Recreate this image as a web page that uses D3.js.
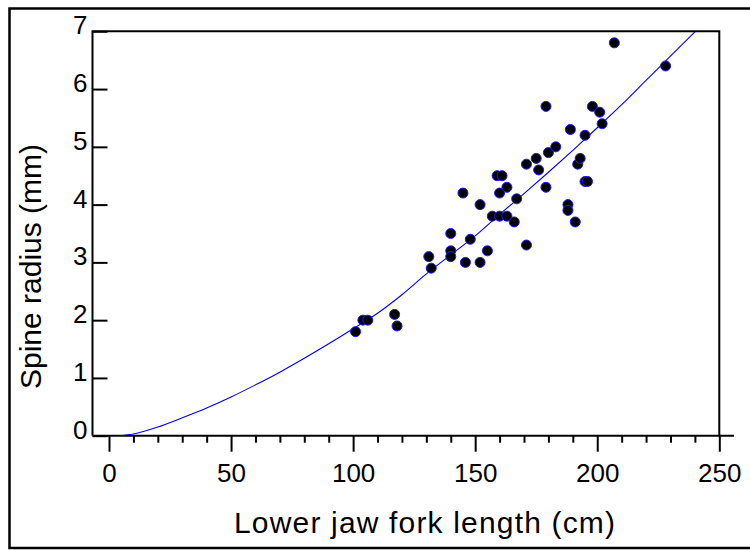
<!DOCTYPE html>
<html>
<head>
<meta charset="utf-8">
<script src="https://cdn.jsdelivr.net/npm/d3@7"></script>
<style>
  html, body { margin: 0; padding: 0; background: #fff; }
  svg { display: block; }
  text { font-family: "Liberation Sans", Arial, sans-serif; fill: #000; }
</style>
</head>
<body>
<svg id="chart" width="750" height="550"></svg>
<script>
// ---- data ----
const forkLength = [101,104,106,117,118,131,132,140,140,140,145,146,148,152,152,155,157,160,160,159,161,163,163,166,167,171,171,175,176,179,179,180,183,188,188,189,191,192,193,195,195,196,198,201,202,207,228];
const spineRadius = [1.8,2.0,2.0,2.1,1.9,3.1,2.9,3.5,3.2,3.1,4.2,3.0,3.4,4.0,3.0,3.2,3.8,3.8,4.2,4.5,4.5,4.3,3.8,3.7,4.1,4.7,3.3,4.8,4.6,5.7,4.3,4.9,5.0,4.0,3.9,5.3,3.7,4.7,4.8,5.2,4.4,4.4,5.7,5.6,5.4,6.8,6.4];
const fitX = [4.5,10,20,30,40,50,60,70,80,90,100,110,120,130,140,150,160,170,180,190,200,210,220,230,240];
const fitY = [0,0.03,0.15,0.31,0.48,0.67,0.88,1.1,1.34,1.59,1.85,2.12,2.44,2.8,3.13,3.46,3.83,4.19,4.56,4.94,5.33,5.73,6.15,6.57,6.99];
const xTicks = [0,50,100,150,200,250];
const xMinorTicks = [10,20,30,40,60,70,80,90,110,120,130,140,160,170,180,190,210,220,230,240];
const yTicks = [0,1,2,3,4,5,6,7];
const xTitle = "Lower jaw fork length (cm)";
const yTitle = "Spine radius (mm)";

// ---- layout ----
const svg = d3.select("#chart");
const frameL = 92.5, frameR = 719.3, frameT = 31.3, frameB = 435.7;
const x = d3.scaleLinear().domain([0, 250]).range([109, 719.3]);
const y = d3.scaleLinear().domain([0, 7]).range([frameB, frameT]);

// outer border
svg.append("path")
  .attr("d", `M755,8.5 H9.5 V548 H755`)
  .attr("fill", "none").attr("stroke", "#000").attr("stroke-width", 2.5);

// clip for data
svg.append("clipPath").attr("id", "clip")
  .append("rect").attr("x", frameL).attr("y", frameT).attr("width", frameR - frameL).attr("height", frameB - frameT);

// frame: top, left, right
svg.append("path")
  .attr("d", `M${frameL},${frameB} V${frameT} H${frameR} V${frameB}`)
  .attr("fill", "none").attr("stroke", "#000").attr("stroke-width", 2);

// x axis line (extends past right frame)
svg.append("line").attr("x1", frameL).attr("x2", 734).attr("y1", frameB).attr("y2", frameB)
  .attr("stroke", "#000").attr("stroke-width", 2);

// x axis major ticks
const xAxis = d3.axisBottom(x).tickValues(xTicks).tickSize(16).tickFormat(d3.format("d"));
const gx = svg.append("g").attr("transform", `translate(0,${frameB})`).call(xAxis);
gx.select(".domain").remove();
gx.selectAll(".tick line").attr("stroke", "#000").attr("stroke-width", 2);
gx.selectAll(".tick text").attr("font-size", 26).attr("font-family", "Liberation Sans, Arial, sans-serif")
  .attr("y", 46).attr("dy", 0);

// x minor ticks
const xAxisMinor = d3.axisBottom(x).tickValues(xMinorTicks).tickSize(7).tickFormat("");
const gxm = svg.append("g").attr("transform", `translate(0,${frameB})`).call(xAxisMinor);
gxm.select(".domain").remove();
gxm.selectAll(".tick line").attr("stroke", "#000").attr("stroke-width", 2);

// y axis ticks (inward)
const yAxis = d3.axisRight(y).tickValues(yTicks).tickSize(15).tickFormat(d3.format("d"));
const gy = svg.append("g").attr("transform", `translate(${frameL},0)`).call(yAxis);
gy.select(".domain").remove();
gy.selectAll(".tick line").attr("stroke", "#000").attr("stroke-width", 2);
gy.selectAll(".tick text").attr("font-size", 26).attr("font-family", "Liberation Sans, Arial, sans-serif")
  .attr("text-anchor", "end").attr("x", -5).attr("dy", "0.1em");

// fitted curve
const line = d3.line().x(d => x(d[0])).y(d => y(d[1])).curve(d3.curveMonotoneX);
svg.append("path")
  .datum(fitX.map((v, i) => [v, fitY[i]]))
  .attr("clip-path", "url(#clip)")
  .attr("d", line)
  .attr("fill", "none").attr("stroke", "#0000ff").attr("stroke-width", 1.1);

// points
svg.append("g").selectAll("circle")
  .data(forkLength.map((v, i) => [v, spineRadius[i]]))
  .join("circle")
  .attr("cx", d => x(d[0])).attr("cy", d => y(d[1])).attr("r", 5)
  .attr("fill", "#000").attr("stroke", "#1a1aff").attr("stroke-width", 1);

// titles
svg.append("text").attr("x", (234 + 615) / 2).attr("y", 533)
  .attr("text-anchor", "middle").attr("font-size", 30)
  .attr("textLength", 381).attr("lengthAdjust", "spacing")
  .text(xTitle);
svg.append("text").attr("transform", `translate(41,${(143 + 390) / 2}) rotate(-90)`)
  .attr("text-anchor", "middle").attr("font-size", 30)
  .text(yTitle);
</script>
</body>
</html>
